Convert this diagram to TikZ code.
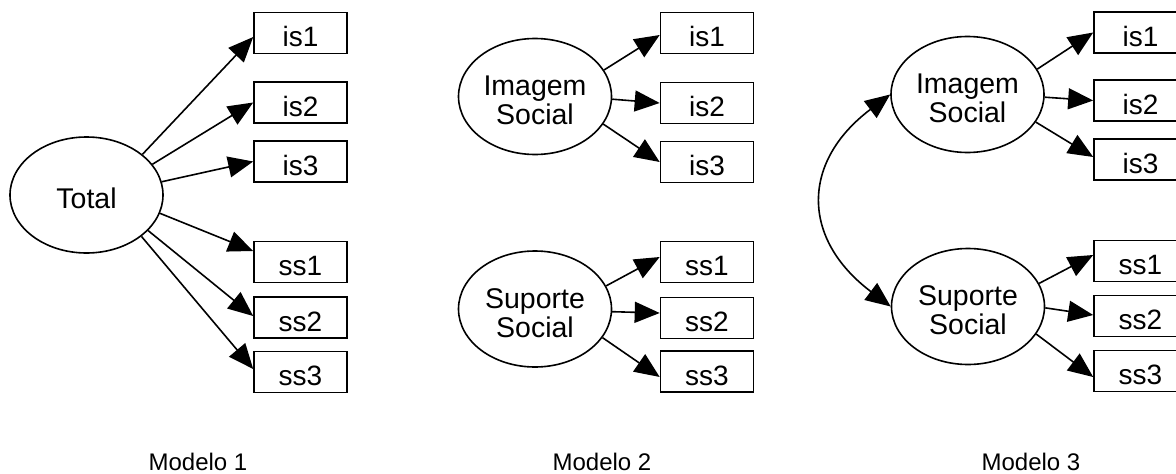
\documentclass[tikz,border=0pt]{standalone}
\usepackage{fontspec}
\setmainfont{Liberation Sans}
\usetikzlibrary{arrows.meta}
\usetikzlibrary{shapes.geometric}

\begin{document}
\begin{tikzpicture}[x=1pt, y=-1pt,
	latent/.style={draw, ellipse, line width=1.6pt, minimum width=153pt, minimum height=116pt, inner sep=0pt, align=center, text height=57pt, font=\fontsize{28.5}{29}\selectfont},
	obs/.style={draw, rectangle, line width=1.6pt, minimum width=93pt, minimum height=41pt, inner sep=0pt, text height=34pt, text depth=7pt, font=\fontsize{28}{28}\selectfont},
	ldg/.style={line width=1.6pt, -{Triangle[length=25pt,width=21pt]}},
	cov/.style={line width=1.6pt, {Triangle[length=25pt,width=21pt]}-{Triangle[length=25pt,width=21pt]}},
	lab/.style={anchor=base, font=\fontsize{24}{24}\selectfont}]
	\useasboundingbox (0,0) rectangle (1176,474);

	% modelo 1
	\node[latent, text height=26.5pt] (m1tot) at (86.5,195) {Total};
	\foreach \n/\y in {is1/33, is2/102.5, is3/161.5, ss1/262, ss2/317.5, ss3/372} {
		\node[obs] (m1\n) at (300.5,\y) {\n};
	}
	\foreach \n/\a/\s in {is1/36/-4, is2/25/0, is3/10/0, ss1/-14/11, ss2/-30/1.5, ss3/-37/3} {
		\draw[ldg] (m1tot.\a) -- ([yshift=\s]m1\n.west);
	}

	% modelo 2
	\node[latent] (m2img) at (535,96.5) {Imagem\\Social};
	\node[latent] (m2sup) at (535,309) {Suporte\\Social};
	\foreach \n/\y in {is1/33, is2/103, is3/162, ss1/262, ss2/318, ss3/371.5} {
		\node[obs] (m2\n) at (707,\y) {\n};
	}
	\foreach \n/\a/\s in {is1/21/-2, is2/-2/0, is3/-22/0} {
		\draw[ldg] (m2img.\a) -- ([yshift=\s]m2\n.west);
	}
	\foreach \n/\a/\s in {ss1/18/5, ss2/-2/5, ss3/-23/-5.5} {
		\draw[ldg] (m2sup.\a) -- ([yshift=\s]m2\n.west);
	}

	% modelo 3
	\node[latent] (m3img) at (967.5,94.5) {Imagem\\Social};
	\node[latent] (m3sup) at (968,306.5) {Suporte\\Social};
	\foreach \n/\y in {is1/32.5, is2/100.5, is3/159.5, ss1/261, ss2/316, ss3/371} {
		\node[obs] (m3\n) at (1140.5,\y) {\n};
	}
	\foreach \n/\a/\s in {is1/20/0, is2/-2/0, is3/-22/2.5} {
		\draw[ldg] (m3img.\a) -- ([yshift=\s]m3\n.west);
	}
	\foreach \n/\a/\s in {ss1/18.5/6, ss2/-1/1, ss3/-22/-6} {
		\draw[ldg] (m3sup.\a) -- ([yshift=\s]m3\n.west);
	}
	\draw[cov] (m3img.west) to[out=217, in=143, looseness=1.35] (m3sup.west);

	% legendas
	\node[lab] (lab1) at (198,470) {Modelo 1};
	\node[lab] (lab2) at (602,470) {Modelo 2};
	\node[lab] (lab3) at (1031,470) {Modelo 3};
\end{tikzpicture}
\end{document}
